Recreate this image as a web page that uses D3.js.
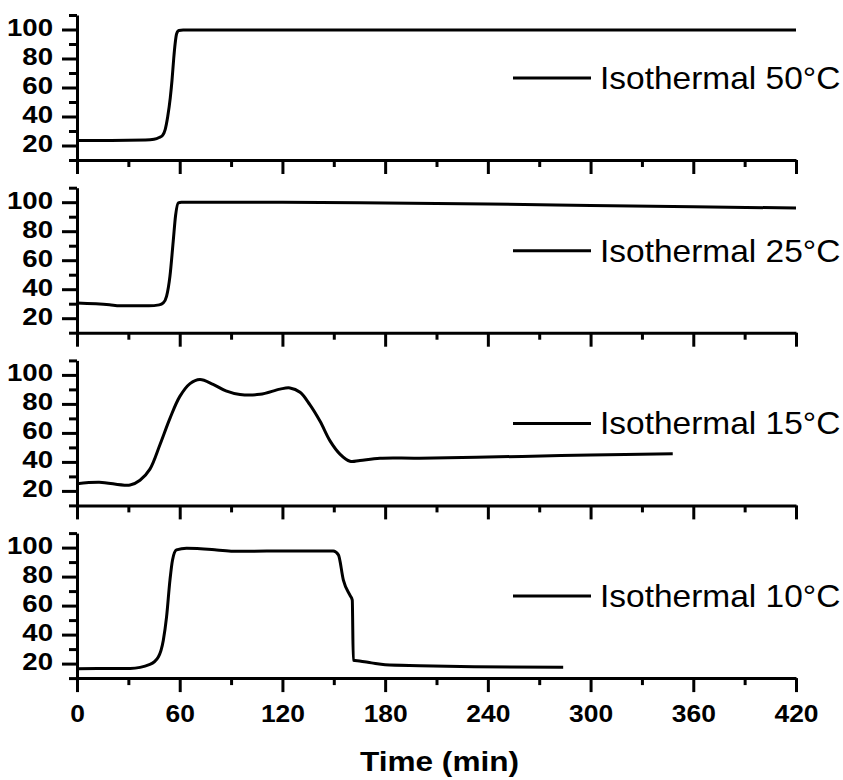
<!DOCTYPE html>
<html>
<head>
<meta charset="utf-8">
<script src="https://cdn.jsdelivr.net/npm/d3@7"></script>
<style>
  body { margin: 0; background: #fff; }
  svg { display: block; }
  text { font-family: "Liberation Sans", Arial, sans-serif; fill: #000; }
  .axis path, .axis line { stroke: #000; stroke-width: 3; }
  .axis text { font-size: 24px; font-weight: bold; }
</style>
</head>
<body>
<svg id="chart"></svg>
<script>
// Curves: [time (min), signal]
var iso50 = [[0,23.5],[20,23.5],[40,23.8],[45,24.3],[48,25.5],[50,27],[51.5,31],[53,40],[54.5,53],
  [55.5,65],[56.5,80],[57.3,90],[58.2,97],[59.5,99.3],[62,99.6],[120,99.6],[240,99.6],[420,99.6]];
var iso25 = [[0,30.5],[19,29.3],[25,28.6],[42,28.6],[48,29.2],[50.4,30.5],[52.3,35],[54.3,49],
  [56.2,73],[57.6,91],[59.2,99.5],[61,100],[120,100],[180,99.5],[240,98.8],[300,97.8],[360,96.8],[420,96]];
var iso15 = [[0,25],[13,26],[31,24],[36.8,27.3],[42.6,35],[48.5,52],[54.3,70],[60,85],[66,94],
  [71.8,96.8],[79.5,93.5],[87,89],[95.2,86.5],[106.9,86.6],[118.6,90.2],[124.4,91],[130.3,88],
  [136,79.5],[142,68],[147.8,54.5],[153.6,45.4],[159.5,40.4],[165.3,41],[177,42.5],[200,42.6],
  [260,43.8],[300,44.8],[348,45.6]];
var iso10 = [[0,16.5],[31,16.7],[42.6,19.5],[47.5,24.6],[50.4,36],[52.3,52],[54.3,77.6],[55.8,91.5],
  [58.1,98.4],[64,99.6],[81.6,98.4],[91.2,97.4],[126.3,97.7],[149.7,97.7],[152.7,95],[155.6,77.6],
  [159.5,67],[160.8,63.8],[161.4,22.3],[165,21.8],[172,20.5],[180,19.2],[200,18.6],[232,17.9],[284,17.4]];

var series = [iso50, iso25, iso15, iso10];
var labels = ['Isothermal 50°C', 'Isothermal 25°C', 'Isothermal 15°C', 'Isothermal 10°C'];
var xMajor = [0, 60, 120, 180, 240, 300, 360, 420];
var xMinor = [30, 90, 150, 210, 270, 330, 390];
var yMajor = [20, 40, 60, 80, 100];
var yMinor = [10, 30, 50, 70, 90, 110];

var width = 843, height = 780;
var left = 77, right = 796;
var panelTop = 15, panelStep = 172.7, panelH = 145;

var svg = d3.select('#chart').attr('width', width).attr('height', height);

var xScale = d3.scaleLinear().domain([0, 420]).range([left, right]);

series.forEach(function(data, i) {
  var top = panelTop + i * panelStep;
  var yScale = d3.scaleLinear().domain([10, 110]).range([top + panelH, top]);
  var g = svg.append('g');

  // x axis (labels only on the bottom panel)
  var xAx = g.append('g').attr('class', 'axis')
    .attr('transform', 'translate(0,' + (top + panelH) + ')')
    .call(d3.axisBottom(xScale).tickValues(xMajor).tickSize(14).tickSizeOuter(0).tickPadding(13)
      .tickFormat(i === 3 ? d3.format('d') : ''));
  xAx.selectAll('text').attr('transform', 'scale(1.1,1)');
  g.append('g').attr('class', 'axis')
    .attr('transform', 'translate(0,' + (top + panelH) + ')')
    .call(d3.axisBottom(xScale).tickValues(xMinor).tickSize(7).tickSizeOuter(0).tickFormat(''))
    .select('.domain').remove();

  // y axis
  var yAx = g.append('g').attr('class', 'axis')
    .attr('transform', 'translate(' + left + ',0)')
    .call(d3.axisLeft(yScale).tickValues(yMajor).tickSize(15).tickSizeOuter(0).tickFormat(d3.format('d')));
  yAx.selectAll('text')
    .attr('x', -24 / 1.15)
    .attr('dy', '0.25em')
    .attr('transform', 'scale(1.15,1)');
  g.append('g').attr('class', 'axis')
    .attr('transform', 'translate(' + left + ',0)')
    .call(d3.axisLeft(yScale).tickValues(yMinor).tickSize(8).tickSizeOuter(0).tickFormat(''))
    .select('.domain').remove();

  // curve: the 15°C one is a smooth hump, the others have sharp steps
  var line = d3.line()
    .x(function(d) { return xScale(d[0]); })
    .y(function(d) { return yScale(d[1]); })
    .curve(i === 2 ? d3.curveCatmullRom.alpha(0.5) : d3.curveMonotoneX);
  g.append('path')
    .datum(data)
    .attr('d', line)
    .attr('fill', 'none')
    .attr('stroke', '#000')
    .attr('stroke-width', 3)
    .attr('stroke-linejoin', 'round');

  // legend
  g.append('line')
    .attr('x1', 513).attr('x2', 591)
    .attr('y1', top + 63).attr('y2', top + 63)
    .attr('stroke', '#000').attr('stroke-width', 3);
  g.append('text')
    .attr('transform', 'translate(600,' + (top + 74) + ') scale(1.08,1)')
    .style('font-size', '31px')
    .text(labels[i]);
});

// axis title
svg.append('text')
  .attr('transform', 'translate(' + ((left + right) / 2 + 3) + ',771) scale(1.17,1)')
  .attr('text-anchor', 'middle')
  .style('font-size', '27px')
  .style('font-weight', 'bold')
  .text('Time (min)');
</script>
</body>
</html>
